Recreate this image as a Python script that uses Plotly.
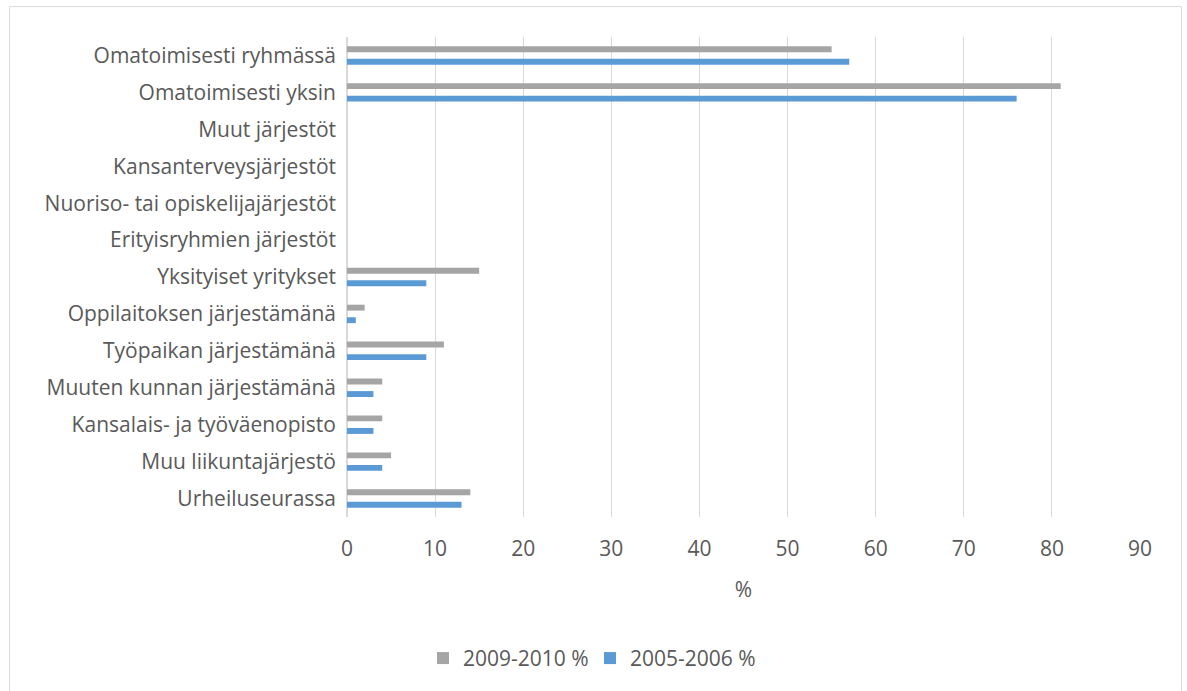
import plotly.graph_objects as go

# Categories listed top to bottom
categories = [
    "Omatoimisesti ryhmässä",
    "Omatoimisesti yksin",
    "Muut järjestöt",
    "Kansanterveysjärjestöt",
    "Nuoriso- tai opiskelijajärjestöt",
    "Erityisryhmien järjestöt",
    "Yksityiset yritykset",
    "Oppilaitoksen järjestämänä",
    "Työpaikan järjestämänä",
    "Muuten kunnan järjestämänä",
    "Kansalais- ja työväenopisto",
    "Muu liikuntajärjestö",
    "Urheiluseurassa",
]

values_2009_2010 = [55, 81, None, None, None, None, 15, 2, 11, 4, 4, 5, 14]
values_2005_2006 = [57, 76, None, None, None, None, 9, 1, 9, 3, 3, 4, 13]

x_ticks = [0, 10, 20, 30, 40, 50, 60, 70, 80, 90]

GRAY = "#A5A5A5"
BLUE = "#5B9BD5"
TEXT = "#595959"
GRID = "#D9D9D9"
FONT = "'Open Sans', 'Noto Sans', sans-serif"
FS = 21

fig = go.Figure()
fig.add_trace(go.Bar(
    y=categories, x=values_2009_2010, orientation="h",
    name="2009-2010 %", marker=dict(color=GRAY, line=dict(width=0)),
))
fig.add_trace(go.Bar(
    y=categories, x=values_2005_2006, orientation="h",
    name="2005-2006 %", marker=dict(color=BLUE, line=dict(width=0)),
))

W, H = 1187, 691
ml, mr, mt, mb = 347, 47, 37, 172
pw, ph = W - ml - mr, H - mt - mb

def px_to_paper_x(px):
    return (px - ml) / pw

def px_to_paper_y(py):
    return (H - mb - py) / ph

fig.update_layout(
    width=W, height=H,
    margin=dict(l=ml, r=mr, t=mt, b=mb),
    paper_bgcolor="white", plot_bgcolor="white",
    barmode="group", bargap=0.32, bargroupgap=0.53,
    font=dict(family=FONT, size=FS, color=TEXT),
    showlegend=True,
    legend=dict(
        orientation="h", x=px_to_paper_x(590), xanchor="center",
        y=px_to_paper_y(661), yanchor="middle",
        font=dict(size=FS, color=TEXT),
        itemwidth=30, tracegroupgap=0, entrywidth=122,
    ),
    xaxis=dict(
        range=[0, 90], tickvals=x_ticks, showgrid=True, gridcolor=GRID, gridwidth=1,
        zeroline=True, zerolinecolor=GRID, zerolinewidth=1.5,
        showline=False, ticks="", ticklabelstandoff=17,
        title=dict(text="%", standoff=21, font=dict(size=FS, color=TEXT)),
        fixedrange=True,
    ),
    yaxis=dict(
        autorange="reversed", showgrid=False, zeroline=False, showline=False,
        ticks="", ticklabelstandoff=10, fixedrange=True,
    ),
    shapes=[dict(
        type="rect", xref="paper", yref="paper",
        x0=px_to_paper_x(9.5), x1=px_to_paper_x(1181.5),
        y0=px_to_paper_y(700), y1=px_to_paper_y(6.5),
        line=dict(color=GRID, width=1), fillcolor="rgba(0,0,0,0)", layer="below",
    )],
)

fig.write_html("out.html")
